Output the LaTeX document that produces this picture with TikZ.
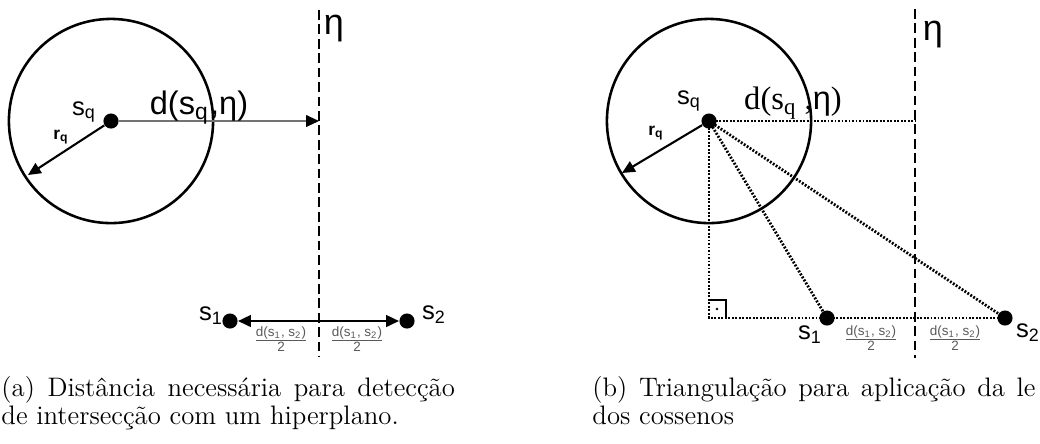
\documentclass[tikz,border=0pt]{standalone}
\usepackage{fontspec}
\newfontfamily\arialfont{Liberation Sans}
\newfontfamily\timesfont{Liberation Serif}
\usetikzlibrary{arrows.meta}

\newcommand{\meiadist}{$\frac{\mbox{d(s\textsubscript{1}, s\textsubscript{2})}}{\mbox{2}}$}

\tikzset{
  ponto/.style={circle, fill=black, inner sep=0pt, minimum size=6.5pt},
  circulo/.style={line width=1.1pt},
  plano/.style={line width=0.9pt, dash pattern=on 4.2pt off 2pt},
  pontilhado/.style={line width=1.2pt, dash pattern=on 0.8pt off 0.7pt},
  raio/.style={line width=0.9pt, -{Triangle[length=5.5pt,width=5pt]}},
  distancia/.style={line width=0.6pt, black!55, -{Triangle[length=5.5pt,width=5pt,black]}},
  dupla/.style={line width=0.9pt, {Triangle[length=5.5pt,width=5pt]}-{Triangle[length=5.5pt,width=5pt]}},
  rotulo/.style={font=\arialfont\fontsize{11}{13}\selectfont, inner sep=0pt},
  rotulogrande/.style={font=\arialfont\fontsize{14}{16}\selectfont, inner sep=0pt},
  rotuloeta/.style={font=\arialfont\fontsize{15.5}{17}\selectfont, inner sep=0pt},
  rotuloraio/.style={font=\arialfont\bfseries\fontsize{7.5}{8}\selectfont, inner sep=0pt},
  fracao/.style={font=\arialfont\fontsize{5.8}{6}\selectfont, text=black!65, inner sep=0pt},
  legenda/.style={anchor=base west, inner sep=0pt, font=\fontsize{11.5}{13}\selectfont}
}

\begin{document}
\begin{tikzpicture}[x=0.43pt, y=-0.43pt]
    \useasboundingbox (0,0) rectangle (1040,443);

    % --- Figura (a): distancia ao hiperplano ---
    \node[ponto] (sqa) at (111,121) {};
    \draw[circulo] (sqa.center) circle (43.9pt);
    \node[rotulo] (lsqa) at (84,112) {s\textsubscript{q}};

    % Hiperplano
    \coordinate (ptopa) at (319,10);
    \coordinate (pbota) at (319,357);
    \draw[plano] (ptopa) -- (pbota);
    \node[rotuloeta] (etaa) at (334,29) {η};

    % Distancia d(sq, eta)
    \coordinate (pa) at (319,121);
    \draw[distancia] (sqa) -- (pa);
    \node[rotulogrande] (da) at (199,108) {d(s\textsubscript{q}\kern0.5pt,η)};

    % Raio
    \coordinate (ra) at (28,175);
    \draw[raio] (sqa) -- (ra);
    \node[rotuloraio] (rqa) at (61,137) {r\textsubscript{q}};

    % Pontos s1 e s2
    \node[ponto] (s1a) at (230,321) {};
    \node[ponto] (s2a) at (407,321) {};
    \draw[dupla] (s1a) -- (s2a);
    \node[rotulo] (ls1a) at (211,316) {s\textsubscript{1}};
    \node[rotulo] (ls2a) at (434,315) {s\textsubscript{2}};
    \node[fracao] (m1a) at (281,339) {\meiadist};
    \node[fracao] (m2a) at (357,339) {\meiadist};

    % Legenda
    \node[legenda] (lega1) at (1,396) {\makebox[195pt][s]{(a) Distância necessária para detecção}};
    \node[legenda] (lega2) at (1,424) {de intersecção com um hiperplano.};

    % --- Figura (b): triangulacao ---
    \node[ponto] (sqb) at (709,121) {};
    \draw[circulo] (sqb.center) circle (43.9pt);
    \node[rotulo] (lsqb) at (689,101) {s\textsubscript{q}};

    % Hiperplano
    \coordinate (ptopb) at (915,9);
    \coordinate (pbotb) at (915,358);
    \draw[plano] (ptopb) -- (pbotb);
    \node[rotuloeta] (etab) at (933,35) {η};

    % Raio
    \coordinate (rb) at (622,173);
    \draw[raio] (sqb) -- (rb);
    \node[rotuloraio] (rqb) at (656,133) {r\textsubscript{q}};

    % Pontos s1 e s2 e triangulos
    \node[ponto] (s1b) at (827,318) {};
    \node[ponto] (s2b) at (1005,318) {};
    \coordinate (pb) at (915,121);
    \coordinate (pe) at (709,318);
    \draw[pontilhado] (sqb.center) -- (pb);
    \draw[pontilhado] (sqb.center) -- (pe) -- (s2b.center);
    \draw[pontilhado] (sqb.center) -- (s1b.center);
    \draw[pontilhado] (sqb.center) -- (s2b.center);
    \draw[line width=0.8pt] (709,300) -- (726,300) -- (726,318);
    \fill (717,309) circle (0.6pt);

    \node[font=\timesfont\fontsize{14}{16}\selectfont, inner sep=0pt] (db) at (793,103)
        {d(s\textsubscript{q} ,{\arialfont η})};
    \node[rotulo] (ls1b) at (810,335) {s\textsubscript{1}};
    \node[rotulo] (ls2b) at (1028,333) {s\textsubscript{2}};
    \node[fracao] (m1b) at (871,338) {\meiadist};
    \node[fracao] (m2b) at (955,338) {\meiadist};

    % Legenda
    \node[legenda] (legb1) at (592,396) {\makebox[190.5pt][s]{(b) Triangulação para aplicação da le}};
    \node[legenda] (legb2) at (592,424) {dos cossenos};
\end{tikzpicture}
\end{document}
